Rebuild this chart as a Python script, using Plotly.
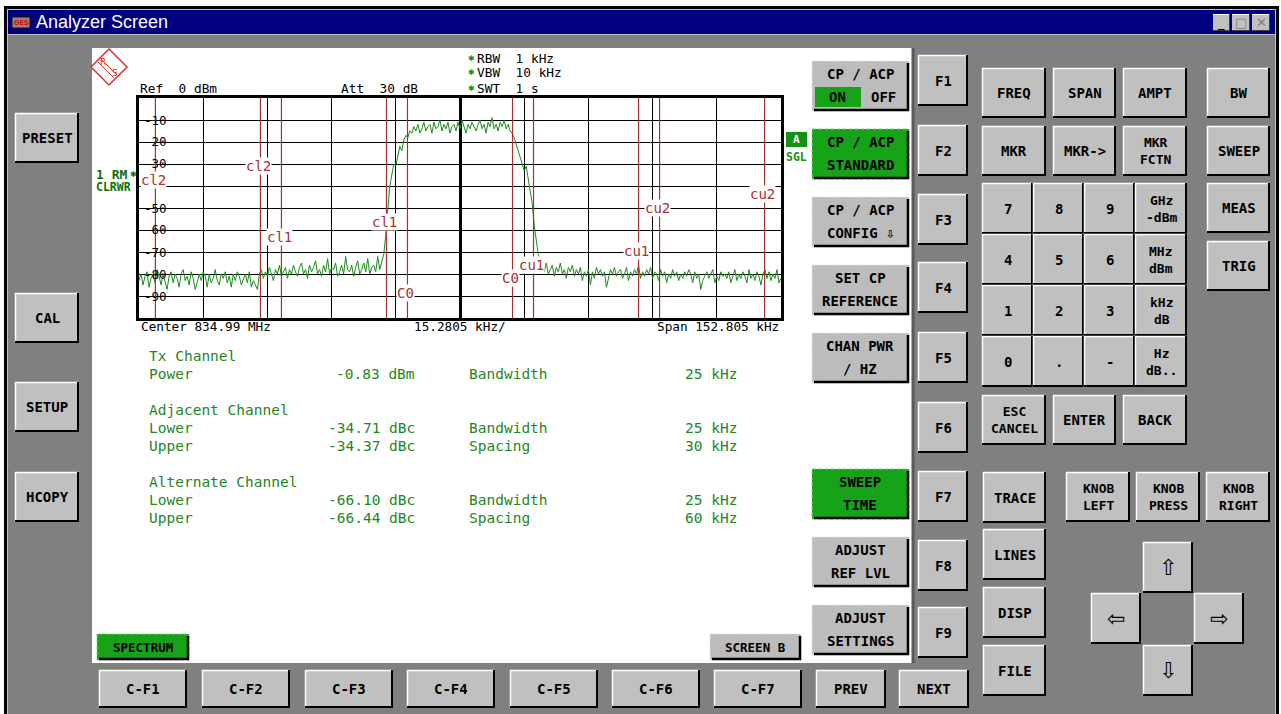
import numpy as np
import plotly.graph_objects as go

W, H = 1281, 714

# ---------------- data ----------------
center_mhz = 834.99
span_khz = 152.805
div_khz = 15.2805
ref_dbm = 0
att_db = 30
# "-40" is hidden behind the cl2 label in the reference
grid_db_labels = [-10, -20, -30, -50, -60, -70, -80, -90]

# trace levels (dBm), equally spaced across the span
noise_left_db = [
    -83, -80, -85, -81, -79, -86, -82, -80, -84, -78,
    -81, -85, -80, -83, -87, -81, -79, -84, -80, -82,
    -86, -80, -78, -83, -81, -85, -79, -82, -87, -84,
    -80, -83, -79, -81, -86, -80, -84, -82, -78, -83,
    -85, -80, -82, -79, -84, -81, -86, -80, -83, -79,
    -81, -85, -82, -80, -84, -79, -86, -83, -85, -87,
    -80, -78, -82, -79, -81, -77, -80, -83, -78, -80,
    -76, -81, -79, -77, -82, -78, -80, -76, -79, -81,
    -77, -75, -80, -78, -82, -76, -79, -77, -74, -80,
    -78, -81, -76, -79, -73, -80, -77, -78, -75, -81,
    -79, -76, -80, -72, -78, -79, -76, -81, -77, -74,
    -80, -78, -75, -79, -73, -80, -77, -76, -79, -72,
    -78, -75,
]
rise_db = [-71, -62, -50, -40, -35, -30, -31, -26, -22, -24, -19, -17, -18, -15, -16, -13, -15]
channel_db = [
    -12, -16, -14, -11, -15, -13, -12, -16, -11, -14,
    -13, -10, -15, -12, -14, -11, -16, -13, -12, -15,
    -11, -14, -10, -13, -16, -12, -14, -11, -13, -15,
    -12, -10, -14, -12, -16, -11, -13, -9, -14, -12,
    -15, -11, -13, -10, -14, -12, -15,
]
fall_db = [-16, -18, -21, -24, -27, -29, -33, -31, -37, -42, -48, -58, -66, -71, -74]
noise_right_db = [
    -77, -79, -75, -80, -78, -76, -81, -77, -79, -75,
    -80, -78, -82, -77, -79, -76, -81, -78, -80, -77,
    -83, -79, -81, -78, -85, -79, -82, -77, -80, -78,
    -81, -79, -86, -82, -78, -80, -77, -81, -79, -78,
    -82, -80, -77, -83, -79, -81, -78, -80, -76, -82,
    -79, -81, -78, -80, -77, -82, -79, -80, -83, -78,
    -81, -79, -84, -80, -82, -78, -81, -79, -83, -80,
    -82, -79, -81, -78, -80, -84, -79, -82, -80, -87,
    -83, -81, -79, -82, -80, -78, -84, -81, -83, -79,
    -81, -80, -82, -79, -84, -81, -78, -83, -80, -82,
    -79, -81, -84, -78, -82, -80, -83, -79, -81, -85,
    -80, -78, -82, -79, -83, -80, -82, -78, -84, -82,
]
level_db = noise_left_db + rise_db + channel_db + fall_db + noise_right_db
freq_khz = np.linspace(-span_khz / 2, span_khz / 2, len(level_db))

channel_names = ["cl2", "cl1", "C0", "cu1", "cu2"]
channel_offsets_khz = [-60, -30, 0, 30, 60]
channel_bw_khz = 25
label_db_lower_edge = [-37.3, -63.2, -88.6, -75.9, -50.0]
label_db_upper_edge = [-30.9, -56.4, -81.8, -69.5, -43.6]

tx_power_dbm = -0.83
adj_lower_dbc = -34.71
adj_upper_dbc = -34.37
alt_lower_dbc = -66.10
alt_upper_dbc = -66.44
tx_bw_khz = 25
adj_bw_khz = 25
adj_spacing_khz = 30
alt_bw_khz = 25
alt_spacing_khz = 60

softkeys = [("CP / ACP", None), ("CP / ACP", "STANDARD"), ("CP / ACP", "CONFIG \u21e9"),
            ("SET CP", "REFERENCE"), ("CHAN PWR", "/ HZ"), None,
            ("SWEEP", "TIME"), ("ADJUST", "REF LVL"), ("ADJUST", "SETTINGS")]
green_softkeys = [1, 6]
fkeys = ["F1", "F2", "F3", "F4", "F5", "F6", "F7", "F8", "F9"]
cfkeys = ["C-F1", "C-F2", "C-F3", "C-F4", "C-F5", "C-F6", "C-F7"]
left_keys = ["PRESET", "CAL", "SETUP", "HCOPY"]
top_keys = [["FREQ", "SPAN", "AMPT"], ["MKR", "MKR->", "MKR|FCTN"]]
side_keys = ["BW", "SWEEP", "MEAS", "TRIG"]
num_keys = [["7", "8", "9", "GHz|-dBm"], ["4", "5", "6", "MHz|dBm"],
            ["1", "2", "3", "kHz|dB"], ["0", ".", "-", "Hz|dB.."]]
edit_keys = ["ESC|CANCEL", "ENTER", "BACK"]
knob_keys = ["KNOB|LEFT", "KNOB|PRESS", "KNOB|RIGHT"]
col_keys = ["TRACE", "LINES", "DISP", "FILE"]

# ---------------- helpers ----------------
shapes = []
annos = []
MONO = "DejaVu Sans Mono"


def X(x):
    return x / W


def Y(y):
    return 1 - y / H


def rect(x0, y0, x1, y1, fill, line=None, lw=0, dash=None):
    shapes.append(dict(type="rect", xref="paper", yref="paper", x0=X(x0), x1=X(x1), y0=Y(y1), y1=Y(y0),
                       fillcolor=fill, line=dict(color=line or fill, width=lw, dash=dash or "solid"),
                       layer="below"))


def seg(x0, y0, x1, y1, color, w=1):
    shapes.append(dict(type="line", xref="paper", yref="paper", x0=X(x0), x1=X(x1), y0=Y(y0), y1=Y(y1),
                       line=dict(color=color, width=w), layer="below"))


def text(x, y, s, size=13, color="black", anchor="center", family=MONO, bg=None):
    d = dict(xref="paper", yref="paper", x=X(x), y=Y(y), text=s, showarrow=False, xanchor=anchor,
             yanchor="middle", font=dict(size=size, color=color, family=family), borderpad=0)
    if bg:
        d["bgcolor"] = bg
    annos.append(d)


def key(x0, y0, x1, y1, label, size=14):
    rect(x0, y0, x1, y1, "#c0c0c0")
    seg(x0, y0 + 0.5, x1, y0 + 0.5, "#ffffff", 1.5)
    seg(x0 + 0.5, y0, x0 + 0.5, y1, "#ffffff", 1.5)
    seg(x0, y1 - 1, x1, y1 - 1, "#000000", 2)
    seg(x1 - 1, y0, x1 - 1, y1, "#000000", 2)
    parts = label.split("|")
    cx, cy = (x0 + x1) / 2, (y0 + y1) / 2
    if label == "":
        return
    if len(parts) == 1:
        text(cx, cy, "<b>" + parts[0] + "</b>", size)
    else:
        text(cx, cy, "<b>" + parts[0] + "<br>" + parts[1] + "</b>", 13)


def softkey(x0, y0, x1, y1, green=False):
    fill = "#17a317" if green else "#bcbcbc"
    rect(x0, y0, x1, y1, fill, "#e6e6e6" if not green else "#7fd07f", 1, "dot")
    seg(x0 + 2, y1 - 1, x1, y1 - 1, "#000000", 2.5)
    seg(x1 - 1, y0 + 2, x1 - 1, y1, "#000000", 2.5)


# ---------------- window frame ----------------
rect(4, 6, 1279, 714, "#000000")
rect(7, 9, 1276, 714, "#c0c0c0")
rect(8, 10, 1275, 34, "#000080")
rect(8, 35, 1275, 714, "#808080")
rect(12, 17, 30, 28, "#8a8a8a", "#400000", 1)
text(21, 22.5, "<b>GES</b>", 7, "#d00000", family="Liberation Sans")
text(35, 22, "Analyzer Screen", 18, "white", "left", family="Liberation Sans")
for (a, b, g, c) in [(1213, 1230, "<b>_</b>", "black"), (1232, 1250, "\u25a1", "#808080"),
                     (1252, 1270, "\u2715", "#808080")]:
    rect(a, 14, b, 31, "#c0c0c0")
    seg(a, 14.5, b, 14.5, "#ffffff", 1)
    seg(a, 30.5, b, 30.5, "#404040", 1)
    seg(b - 0.5, 14, b - 0.5, 31, "#404040", 1)
    text((a + b) / 2, 22.5, g, 13, c, family="DejaVu Sans")

# screen
rect(92, 48, 912, 663, "#ffffff")
seg(913, 48, 913, 663, "#5a5a5a", 3)

# ---------------- header texts ----------------
# R&S logo
shapes.append(dict(type="path", xref="paper", yref="paper", layer="below",
                   path="M {} {} L {} {} L {} {} L {} {} Z".format(X(109), Y(49), X(127), Y(67), X(109), Y(85),
                                                                  X(91), Y(67)),
                   line=dict(color="#e03030", width=1.5)))
shapes.append(dict(type="path", xref="paper", yref="paper", layer="below",
                   path="M {} {} L {} {} M {} {} L {} {}".format(X(101), Y(59), X(117), Y(75), X(98), Y(62),
                                                                 X(114), Y(78)),
                   line=dict(color="#e03030", width=1)))
text(103, 62, "R", 9, "#e03030", family="DejaVu Sans")
text(115, 73, "S", 9, "#e03030", family="DejaVu Sans")

text(139, 88, "Ref  {} dBm".format(ref_dbm), 12.8, "black", "left")
text(340, 88, "Att  {} dB".format(att_db), 12.8, "black", "left")
for yy, s in [(58, "RBW  1 kHz"), (73, "VBW  10 kHz"), (88, "SWT  1 s")]:
    text(471, yy, "\u2731", 8, "#1a8c1a", family="DejaVu Sans")
    text(476, yy, s, 12.8, "black", "left")

text(95, 174, "<b>1 RM</b>", 13, "#107010", "left")
text(133, 174, "\u2731", 8, "#107010", family="DejaVu Sans")
text(95, 187, "<b>CLRWR</b>", 11.5, "#107010", "left")
rect(786, 132, 807, 147, "#139313")
text(796.5, 139.5, "<b>A</b>", 11, "white")
text(796.5, 157, "<b>SGL</b>", 11.5, "#139313")

# y tick labels
for v in grid_db_labels:
    yy = 98 + (0 - v) / 100 * 220
    text(143, yy, str(v), 12.5, "black", "left")

text(140, 327, "Center {} MHz".format(center_mhz), 12.7, "black", "left")
text(460, 327, "{} kHz/".format(div_khz), 12.7, "black")
text(780, 327, "Span {} kHz".format(span_khz), 12.7, "black", "right")

# ---------------- measurement table ----------------
G = "#1f861f"
TS = 14.5
text(148, 356, "Tx Channel", TS, G, "left")
text(148, 374, "Power", TS, G, "left")
text(416, 374, "{:.2f} dBm".format(tx_power_dbm), TS, G, "right")
text(468, 374, "Bandwidth", TS, G, "left")
text(738, 374, "{} kHz".format(tx_bw_khz), TS, G, "right")

text(148, 410, "Adjacent Channel", TS, G, "left")
text(148, 428, "Lower", TS, G, "left")
text(148, 446, "Upper", TS, G, "left")
text(416, 428, "{:.2f} dBc".format(adj_lower_dbc), TS, G, "right")
text(416, 446, "{:.2f} dBc".format(adj_upper_dbc), TS, G, "right")
text(468, 428, "Bandwidth", TS, G, "left")
text(468, 446, "Spacing", TS, G, "left")
text(738, 428, "{} kHz".format(adj_bw_khz), TS, G, "right")
text(738, 446, "{} kHz".format(adj_spacing_khz), TS, G, "right")

text(148, 482, "Alternate Channel", TS, G, "left")
text(148, 500, "Lower", TS, G, "left")
text(148, 518, "Upper", TS, G, "left")
text(416, 500, "{:.2f} dBc".format(alt_lower_dbc), TS, G, "right")
text(416, 518, "{:.2f} dBc".format(alt_upper_dbc), TS, G, "right")
text(468, 500, "Bandwidth", TS, G, "left")
text(468, 518, "Spacing", TS, G, "left")
text(738, 500, "{} kHz".format(alt_bw_khz), TS, G, "right")
text(738, 518, "{} kHz".format(alt_spacing_khz), TS, G, "right")

# ---------------- softkeys ----------------
for i, sk in enumerate(softkeys):
    if sk is None:
        continue
    y0 = 61 + i * 68
    softkey(812, y0, 909, y0 + 50, i in green_softkeys)
    l1, l2 = sk
    text(860, y0 + 13, "<b>" + l1 + "</b>", 14)
    if l2 is not None:
        text(860, y0 + 36, "<b>" + l2 + "</b>", 14)
rect(815, 87, 861, 107, "#17a317")
text(838, 97, "<b>ON</b>", 14)
text(883, 97, "<b>OFF</b>", 14)

softkey(97, 634, 189, 660, True)
text(143, 647, "<b>SPECTRUM</b>", 12.5)
softkey(710, 634, 801, 660, False)
text(755, 647, "<b>SCREEN B</b>", 12.5)

# ---------------- hardware keys ----------------
f_tops = [55, 125, 194, 262, 332, 402, 471, 540, 607]
for t, lab in zip(f_tops, fkeys):
    key(918, t, 968, t + 51, lab)

for x0, lab in zip([99, 202, 305, 407, 510, 612, 714], cfkeys):
    key(x0, 670, x0 + 88, 708, lab)
key(816, 670, 886, 708, "PREV")
key(899, 670, 969, 708, "NEXT")

for t, lab in zip([113, 293, 382, 472], left_keys):
    key(15, t, 79, t + 50, lab)

tk_x = [(982, 1046), (1053, 1116), (1123, 1187)]
for r, t in enumerate([68, 126]):
    for (a, b), lab in zip(tk_x, top_keys[r]):
        key(a, t, b, t + 50, lab)
for t, lab in zip([68, 126, 183, 241], side_keys):
    key(1207, t, 1270, t + 50, lab)

nx = [982, 1033, 1084, 1135, 1187]
ny = [183, 234, 285, 336, 387]
for r in range(4):
    for c in range(4):
        key(nx[c], ny[r], nx[c + 1], ny[r + 1], num_keys[r][c])

for (a, b), lab in zip(tk_x, edit_keys):
    key(a, 395, b, 445, lab)
for a, lab in zip([1066, 1136, 1206], knob_keys):
    key(a, 472, a + 64, 522, lab)
for t, lab in zip([472, 529, 587, 645], col_keys):
    key(983, t, 1046, t + 51, lab)

for (a, t, g) in [(1143, 542, "\u21e7"), (1091, 593, "\u21e6"), (1194, 593, "\u21e8"), (1143, 645, "\u21e9")]:
    key(a, t, a + 50, t + 51, "")
    text(a + 25, t + 25, g, 22, "black", family="DejaVu Sans")

# ---------------- channel lines & labels ----------------
RED = "#a83232"
for name, off, ylo, yhi in zip(channel_names, channel_offsets_khz, label_db_lower_edge, label_db_upper_edge):
    for edge, ylab in [(off - channel_bw_khz / 2, ylo), (off + channel_bw_khz / 2, yhi)]:
        shapes.append(dict(type="line", xref="x", yref="paper", x0=edge, x1=edge, y0=Y(318), y1=Y(98),
                           line=dict(color=RED, width=1.2), layer="above"))
        annos.append(dict(xref="x", yref="y", x=edge, y=ylab, text=name, showarrow=False, xshift=-2,
                          font=dict(size=14, color=RED, family=MONO), bgcolor="white", borderpad=0))

# ---------------- figure ----------------
fig = go.Figure()
fig.add_trace(go.Scatter(x=freq_khz, y=level_db, mode="lines",
                         line=dict(color="#1a8c1a", width=1), hoverinfo="skip", showlegend=False))

fig.update_layout(
    width=W, height=H, margin=dict(l=0, r=0, t=0, b=0),
    paper_bgcolor="white", plot_bgcolor="white",
    font=dict(family=MONO, color="black"),
    shapes=shapes, annotations=annos, showlegend=False,
    xaxis=dict(domain=[X(139), X(781)], range=[-span_khz / 2, span_khz / 2], tick0=-span_khz / 2,
               dtick=div_khz, showgrid=True, gridcolor="black", gridwidth=1, showticklabels=False,
               ticks="", zeroline=True, zerolinecolor="black", zerolinewidth=2.5,
               showline=True, linecolor="black", linewidth=2.5, mirror=True, fixedrange=True),
    yaxis=dict(domain=[Y(318), Y(98)], range=[-100, 0], tick0=0, dtick=10, showgrid=True,
               gridcolor="black", gridwidth=1, showticklabels=False, ticks="", zeroline=False,
               showline=True, linecolor="black", linewidth=2.5, mirror=True, fixedrange=True),
)

fig.write_html("out.html", config={"displayModeBar": False},
               post_script="document.body.style.margin='0';document.body.style.overflow='hidden';")
